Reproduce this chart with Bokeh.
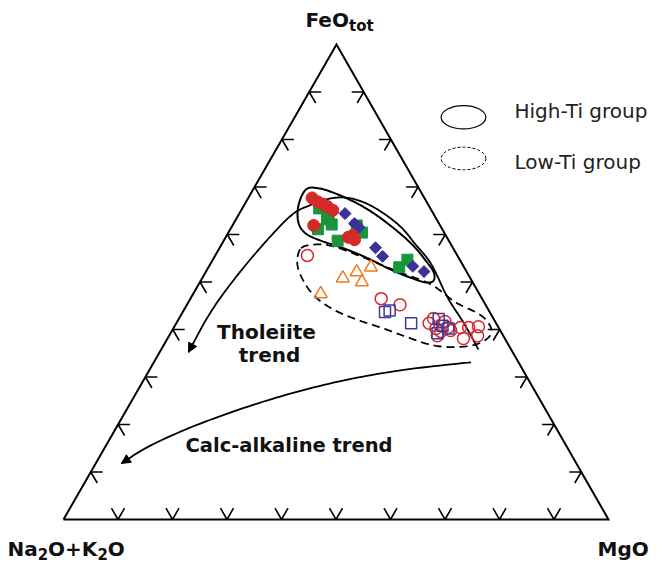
import numpy as np
from bokeh.plotting import figure
from bokeh.models import Range1d, Arrow, NormalHead
from bokeh.embed import file_html
from bokeh.resources import INLINE
from bokeh.core.properties import value

# ---------------- data (ternary %, FeOtot and MgO; Na2O+K2O = 100 - F - M) -------------
hi_circle_F = [67.7, 66.9, 66.4, 65.9, 65.1, 61.9, 59.8, 58.9, 59.4]
hi_circle_M = [11.7, 13.1, 14.3, 15.4, 16.8, 14.9, 23.1, 23.9, 22.5]

hi_square_F = [65.5, 64.0, 63.2, 62.1, 61.1, 58.7, 61.9, 60.4, 53.1, 54.7]
hi_square_M = [14.1, 16.6, 16.7, 18.1, 16.1, 20.9, 22.8, 24.5, 35.0, 35.7]

hi_diamond_F = [64.4, 62.3, 61.5, 57.2, 55.4, 53.3, 52.2]
hi_diamond_M = [19.4, 22.2, 23.4, 28.6, 30.8, 37.4, 40.0]

lo_triangle_F = [47.5, 50.8, 52.1, 50.0, 53.1]
lo_triangle_M = [23.4, 25.8, 27.7, 29.7, 29.8]

lo_circle_F = [55.6, 46.5, 45.2, 41.3, 42.3, 40.2, 38.7, 41.7, 40.4, 39.8, 39.6,
               40.4, 38.1, 40.4, 38.7, 40.6]
lo_circle_M = [16.9, 35.0, 39.1, 46.4, 46.7, 48.2, 49.2, 49.1, 50.3, 51.1, 49.4,
               52.6, 54.3, 54.1, 56.6, 55.8]

lo_square_F = [43.7, 44.0, 41.3, 42.2, 39.2, 40.2, 40.8]
lo_square_M = [37.1, 37.8, 43.1, 47.7, 49.0, 50.5, 49.1]

# field boundaries and trends (ternary %)
hi_field_F = [69.5, 69.7, 68.6, 66.7, 64.2, 60.6, 57.5, 54.3, 52.0, 50.3, 49.9, 50.9,
              52.6, 55.2, 57.3, 58.7, 60.2, 62.5, 66.1]
hi_field_M = [9.7, 12.0, 15.6, 20.2, 25.1, 31.0, 35.5, 39.4, 41.9, 42.7, 41.5, 38.2,
              33.7, 27.8, 22.2, 17.8, 14.3, 11.8, 10.0]

lo_field_F = [57.1, 57.9, 57.5, 55.2, 52.2, 49.5, 45.7, 43.4, 41.5, 39.4, 37.7, 36.6,
              36.3, 36.8, 38.3, 40.2, 42.1, 44.2, 46.9, 50.3, 53.9]
lo_field_M = [15.0, 17.3, 20.7, 27.3, 35.2, 42.6, 49.1, 54.3, 57.1, 58.8, 58.4, 56.4,
              52.8, 48.9, 44.1, 38.6, 32.7, 27.4, 22.7, 18.8, 15.9]

thol_F = [35.8, 41.3, 46.7, 53.7, 57.9, 61.9, 65.7, 67.6, 67.6, 66.1, 63.8, 56.6, 48.8, 42.5, 35.2]
thol_M = [58.2, 52.8, 47.1, 40.6, 35.6, 30.6, 24.1, 18.9, 15.2, 12.0, 9.6, 7.3, 5.7, 5.1, 5.3]

calc_F = [33.1, 31.4, 28.8, 25.1, 20.2, 15.6, 11.8]
calc_M = [58.2, 46.1, 35.1, 24.9, 15.0, 8.2, 4.7]

tick_values = [10, 20, 30, 40, 50, 60, 70, 80, 90]

# ---------------- layout ----------------
W, H = 657, 567
VA = (63.0, 519.0)   # Na2O+K2O corner
VF = (336.0, 44.0)   # FeOtot corner
VM = (608.0, 519.0)  # MgO corner
DY = -8.5            # baseline correction for svg text

RED = "#d42a2a"
GREEN = "#17963a"
BLUE = "#3b3199"
ORANGE = "#f27a1e"
OBLUE = "#3d3a9e"


def tern(F, M):
    F = np.asarray(F, dtype=float) / 100.0
    M = np.asarray(M, dtype=float) / 100.0
    A = 1.0 - F - M
    x = A * VA[0] + F * VF[0] + M * VM[0]
    y = A * VA[1] + F * VF[1] + M * VM[1]
    return x, y


def smooth(xs, ys, closed=False, n=14):
    pts = np.column_stack([xs, ys])
    if closed:
        P = np.vstack([pts[-1], pts, pts[0], pts[1]])
    else:
        P = np.vstack([pts[0], pts, pts[-1]])
    out = []
    for i in range(1, len(P) - 2):
        p0, p1, p2, p3 = P[i - 1], P[i], P[i + 1], P[i + 2]
        for t in np.linspace(0, 1, n, endpoint=False):
            t2, t3 = t * t, t * t * t
            out.append(0.5 * ((2 * p1) + (-p0 + p2) * t +
                              (2 * p0 - 5 * p1 + 4 * p2 - p3) * t2 +
                              (-p0 + 3 * p1 - 3 * p2 + p3) * t3))
    out.append(P[-2])
    out = np.array(out)
    return out[:, 0], out[:, 1]


p = figure(width=W, height=H, x_range=Range1d(0, W), y_range=Range1d(H, 0),
           output_backend="svg", toolbar_location=None, min_border=0,
           x_axis_location=None, y_axis_location=None)
p.grid.visible = False
p.outline_line_color = None
p.background_fill_color = "white"

# triangle
tx, ty = tern([0, 100, 0, 0], [0, 0, 100, 0])
p.line(tx, ty, line_color="black", line_width=2, line_join="miter")

# ticks
xs, ys = [], []
for v in tick_values:
    bx, by = tern(0, v)
    xs.append([bx - 6.5, bx, bx + 6.5]); ys.append([by - 11.3, by, by - 11.3])
    lx, ly = tern(v, 0)
    xs.append([lx + 12, lx, lx + 6.5]); ys.append([ly, ly, ly + 11])
    rx, ry = tern(v, 100 - v)
    xs.append([rx - 12, rx, rx - 6.5]); ys.append([ry, ry, ry + 11])
p.multi_line(xs, ys, line_color="black", line_width=1.6)

# fields
hx, hy = tern(hi_field_F, hi_field_M)
sx, sy = smooth(hx, hy, closed=True)
p.line(sx, sy, line_color="black", line_width=2)

lx_, ly_ = tern(lo_field_F, lo_field_M)
sx, sy = smooth(lx_, ly_, closed=True)
p.line(sx, sy, line_color="black", line_width=1.8, line_dash="8 5")

# trends
ttx, tty = tern(thol_F, thol_M)
sx, sy = smooth(ttx, tty)
p.line(sx, sy, line_color="black", line_width=1.8)
p.add_layout(Arrow(end=NormalHead(size=9, fill_color="black", line_color="black"),
                   x_start=sx[-4], y_start=sy[-4], x_end=sx[-1], y_end=sy[-1],
                   line_width=1.8, line_color="black"))

cx, cy = tern(calc_F, calc_M)
sx, sy = smooth(cx, cy)
p.line(sx, sy, line_color="black", line_width=1.8)
p.add_layout(Arrow(end=NormalHead(size=9, fill_color="black", line_color="black"),
                   x_start=sx[-4], y_start=sy[-4], x_end=sx[-1], y_end=sy[-1],
                   line_width=1.8, line_color="black"))

# data points
x, y = tern(lo_circle_F, lo_circle_M)
p.scatter(x, y, marker="circle", size=12, fill_color=None, line_color=RED, line_width=1.5)
x, y = tern(lo_square_F, lo_square_M)
p.scatter(x, y, marker="square", size=11, fill_color=None, line_color=OBLUE, line_width=1.5)
x, y = tern(lo_triangle_F, lo_triangle_M)
p.scatter(x, y, marker="triangle", size=13, fill_color=None, line_color=ORANGE, line_width=1.5)
x, y = tern(hi_square_F, hi_square_M)
p.scatter(x, y, marker="square", size=11, fill_color=GREEN, line_color=GREEN)
x, y = tern(hi_diamond_F, hi_diamond_M)
p.scatter(x, y, marker="square", size=8.5, angle=np.pi / 4, fill_color=BLUE, line_color=BLUE)
x, y = tern(hi_circle_F, hi_circle_M)
p.scatter(x, y, marker="circle", size=12, fill_color=RED, line_color=RED)

# legend
p.ellipse(x=[463], y=[116.7], width=44.7, height=23.3, fill_color=None,
          line_color="black", line_width=1.2)
p.ellipse(x=[463], y=[158], width=44.7, height=22.7, fill_color=None,
          line_color="black", line_width=1.0, line_dash="3 2")
p.text(x=[514, 514], y=[118.5 + DY, 169.5 + DY], text=["High-Ti group", "Low-Ti group"],
       text_font=value("DejaVu Sans"), text_font_size="20px", text_color="#222222",
       text_baseline="alphabetic", text_align="left")

# labels
BOLD = dict(text_font=value("DejaVu Sans"), text_font_style="bold", text_color="#111111",
            text_baseline="alphabetic", text_align="left")
p.text(x=[305], y=[27.5 + DY], text=["FeO"], text_font_size="20px", **BOLD)
p.text(x=[348.5], y=[33.5 + DY], text=["tot"], text_font_size="15px", **BOLD)

p.text(x=[7, 47.6, 107.3], y=[557 + DY] * 3, text=["Na", "O+K", "O"], text_font_size="20px", **BOLD)
p.text(x=[37.2, 96.9], y=[561.5 + DY] * 2, text=["2", "2"], text_font_size="15px", **BOLD)
p.text(x=[597], y=[557 + DY], text=["MgO"], text_font_size="20px", **BOLD)

CBOLD = dict(BOLD); CBOLD["text_align"] = "center"
p.text(x=[266, 269], y=[340 + DY, 363 + DY], text=["Tholeiite", "trend"], text_font_size="20px", **CBOLD)
p.text(x=[185], y=[453 + DY], text=["Calc-alkaline trend"], text_font_size="19.5px", **BOLD)

open("out.html", "w").write(file_html(p, INLINE))
